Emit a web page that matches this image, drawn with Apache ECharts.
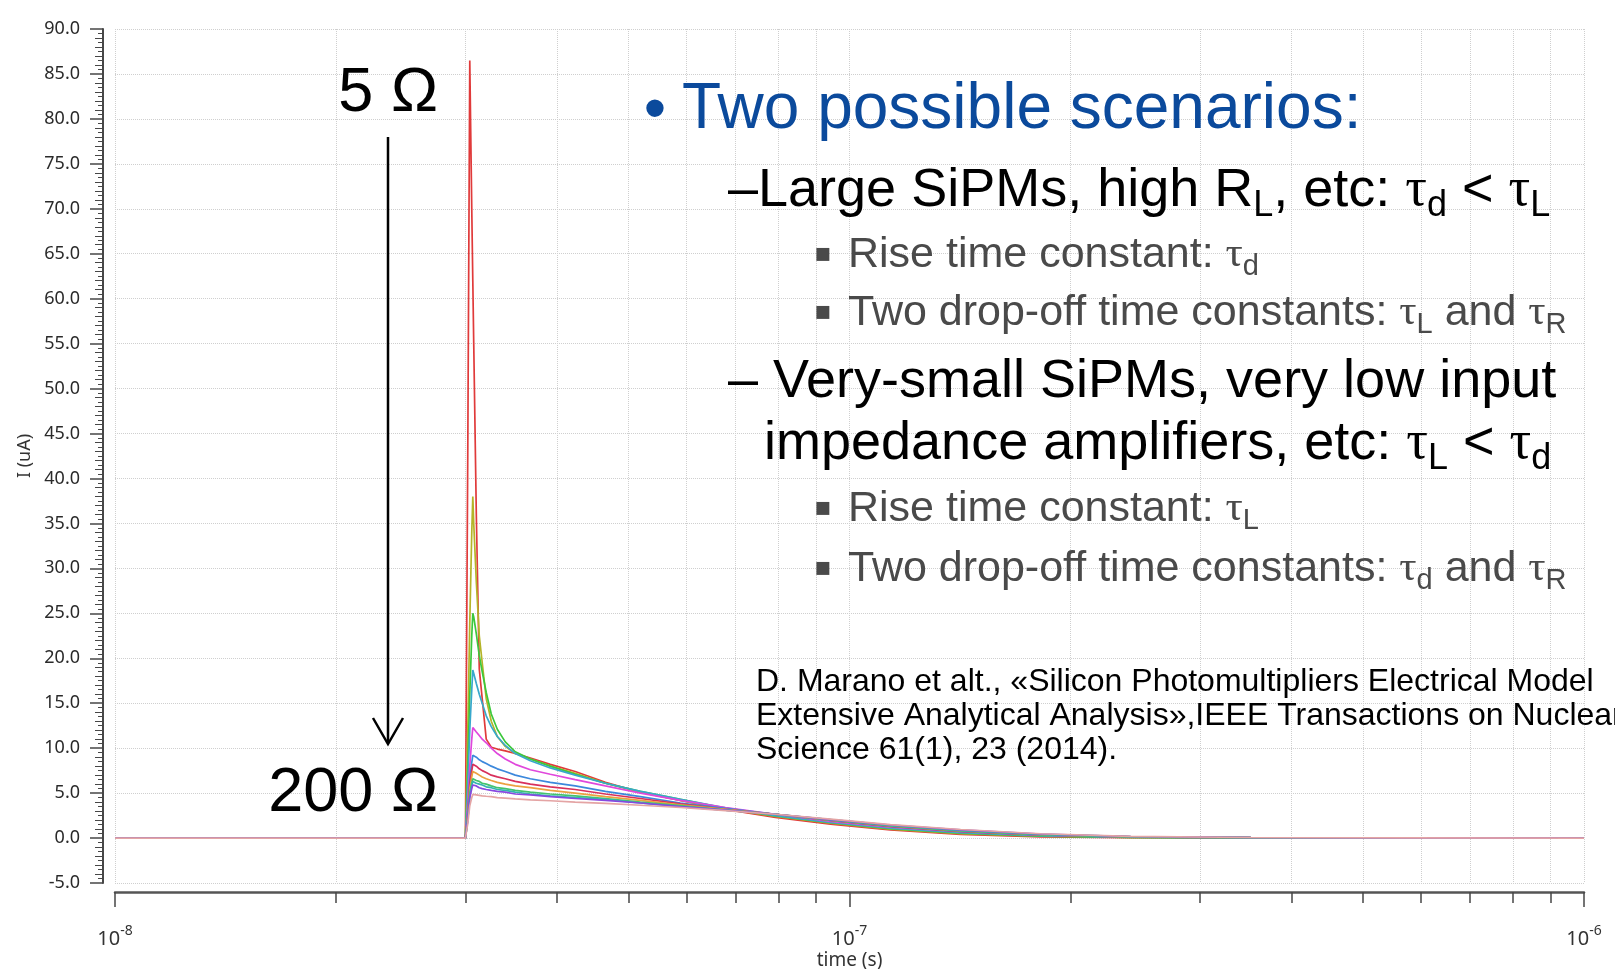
<!DOCTYPE html>
<html>
<head>
<meta charset="utf-8">
<script src="https://cdn.jsdelivr.net/npm/echarts@6/dist/echarts.min.js"></script>
<style>
html,body{margin:0;padding:0;background:#ffffff;}
#chart{width:1615px;height:969px;}
</style>
</head>
<body>
<div id="chart"></div>
<script>
// ---- data (time in seconds, current in uA) ----
const timeS = [1.0e-8, 3.0e-8, 3.022e-8, 3.041e-8, 3.060e-8, 3.070e-8, 3.079e-8, 3.104e-8, 3.133e-8, 3.162e-8,
  3.202e-8, 3.253e-8, 3.315e-8, 3.399e-8, 3.507e-8, 3.677e-8, 3.914e-8, 4.232e-8, 4.652e-8, 5.192e-8,
  5.886e-8, 6.778e-8, 7.929e-8, 9.422e-8, 1.137e-7, 1.417e-7, 1.821e-7, 2.415e-7, 3.518e-7, 5.633e-7, 1.0e-6];

const curveRed     = [0,0,43,86.5,70,62,55,36,18.8,15.5,11,10.1,9.9,9.7,9.4,8.9,8.2,7.4,6.2,5.1,4.2,3.2,2.3,1.55,0.9,0.4,0.14,0.05,0.01,0,0];
const curveOlive   = [0,0,12,24,34,38,35,28.5,22.5,19.5,15.5,13,11.3,10.2,9.4,8.8,8.0,7.2,6.1,5.1,4.2,3.25,2.4,1.65,1.0,0.5,0.2,0.06,0.01,0,0];
const curveGreen   = [0,0,8,16,22.5,25,24.6,22.7,20.3,18.5,16.2,13.8,12.1,10.7,9.6,8.8,8.0,7.1,6.1,5.2,4.3,3.3,2.45,1.7,1.05,0.55,0.22,0.07,0.02,0,0];
const curveCyan    = [0,0,6,12,16.5,18.7,18.3,17.2,16.0,15.0,13.6,12.4,11.3,10.3,9.4,8.6,7.8,7.0,6.1,5.2,4.3,3.35,2.5,1.75,1.1,0.6,0.27,0.09,0.02,0,0];
const curveMagenta = [0,0,4,8,11,12.3,12.2,11.8,11.4,11.0,10.6,10.0,9.4,8.8,8.2,7.6,7.1,6.5,5.8,5.0,4.2,3.4,2.65,1.85,1.2,0.7,0.32,0.12,0.04,0.01,0];
const curveBlue    = [0,0,3,6.5,8.4,9.2,9.2,9.0,8.7,8.5,8.3,8.0,7.7,7.4,7.0,6.6,6.2,5.8,5.2,4.6,3.9,3.3,2.65,1.95,1.3,0.75,0.35,0.13,0.04,0.01,0];
const curveCrimson = [0,0,2.7,6,7.5,8.2,8.2,8.0,7.7,7.5,7.3,7.0,6.8,6.6,6.3,6.0,5.7,5.4,4.9,4.4,3.8,3.2,2.65,1.95,1.3,0.75,0.35,0.13,0.04,0.01,0];
const curveOrange  = [0,0,2.5,5.5,6.8,7.4,7.4,7.2,7.0,6.8,6.6,6.4,6.2,6.0,5.8,5.6,5.3,5.0,4.6,4.2,3.7,3.2,2.65,2.0,1.35,0.8,0.37,0.14,0.04,0.01,0];
const curveGreen2  = [0,0,2.2,5.0,6.1,6.6,6.6,6.4,6.3,6.1,6.0,5.8,5.6,5.5,5.3,5.1,4.9,4.7,4.4,4.0,3.6,3.1,2.65,2.0,1.35,0.8,0.38,0.14,0.05,0.01,0];
const curveTeal    = [0,0,2.1,4.7,5.8,6.3,6.3,6.1,6.0,5.9,5.7,5.6,5.4,5.3,5.1,4.9,4.7,4.5,4.3,3.9,3.5,3.1,2.65,2.05,1.4,0.85,0.42,0.15,0.05,0.01,0];
const curvePurple  = [0,0,2,4.5,5.5,5.9,5.9,5.8,5.6,5.5,5.4,5.3,5.2,5.1,4.9,4.8,4.6,4.4,4.2,3.9,3.5,3.1,2.65,2.05,1.45,0.9,0.45,0.17,0.06,0.01,0];
const curveSalmon  = [0,0,1.6,3.6,4.5,4.85,4.85,4.8,4.75,4.7,4.65,4.6,4.5,4.45,4.35,4.25,4.15,4.0,3.85,3.65,3.4,3.05,2.65,2.1,1.5,0.95,0.48,0.18,0.06,0.01,0];

const curveNames  = ['5 Ω','curve 2','curve 3','curve 4','curve 5','curve 6','curve 7','curve 8','curve 9','curve 10','curve 11','200 Ω'];
const curveValues = [curveRed, curveOlive, curveGreen, curveCyan, curveMagenta, curveBlue, curveCrimson, curveOrange, curveGreen2, curveTeal, curvePurple, curveSalmon];
const curveColors = ['#e03a3a','#b4b428','#3cc83c','#38a8cc','#e048dc','#3c88dc','#d8305c','#eca040','#44c46c','#34b4b0','#8848e0','#e4a4a4'];

const xDecadeTicks = [1e-8, 1e-7, 1e-6];
const xMinorTicks = [2e-8,3e-8,4e-8,5e-8,6e-8,7e-8,8e-8,9e-8,2e-7,3e-7,4e-7,5e-7,6e-7,7e-7,8e-7,9e-7];

// ---- chart ----
const chart = echarts.init(document.getElementById('chart'), null, {renderer: 'canvas'});
const gridColor = '#cfcfcf';
const axisColor = '#474747';
const labelFont = 'Noto Sans';

const series = curveValues.map((vals, k) => ({
  name: curveNames[k],
  type: 'line',
  showSymbol: false,
  symbol: 'none',
  silent: true,
  data: timeS.map((t, i) => [Math.log10(t), vals[i]]),
  lineStyle: {color: curveColors[k], width: 1.7},
  itemStyle: {color: curveColors[k]},
  z: 3
}));

const tauRich = (size, color, subSize, shift) => ({
  m: {fontSize: size, fontFamily: 'Liberation Sans', fill: color, lineHeight: size + 8},
  t: {fontSize: size, fontFamily: 'Liberation Serif', fill: color, lineHeight: size + 8},
  s: {fontSize: subSize, fontFamily: 'Liberation Sans', fill: color, lineHeight: size + 8, padding: [shift * 2, 0, 0, 0]}
});

const blue = '#0b4a9c';
const gray = '#4a4a4a';
const richL2 = tauRich(54, '#000000', 36, 15);
const richL3 = tauRich(43, gray, 29, 12);

function richText(x, y, text, rich) {
  return {type: 'text', x: x, y: y, z: 100,
    style: {text: text, rich: rich, align: 'left', verticalAlign: 'middle'}};
}
function plainText(x, y, text, size, color, align, family) {
  return {type: 'text', x: x, y: y, z: 100,
    style: {text: text, fontSize: size, fontFamily: family || 'Liberation Sans', fill: color,
      align: align || 'left', verticalAlign: 'middle'}};
}

const graphics = [
  plainText(655, 112, '•', 64, blue, 'center'),
  plainText(682, 110, 'Two possible scenarios:', 64, blue),
  richText(728, 191, '{m|–Large SiPMs, high R}{s|L}{m|, etc: }{t|τ}{s|d}{m| < }{t|τ}{s|L}', richL2),
  plainText(823, 254, '▪', 26, gray, 'center', 'DejaVu Sans'),
  richText(848, 255, '{m|Rise time constant: }{t|τ}{s|d}', richL3),
  plainText(823, 312, '▪', 26, gray, 'center', 'DejaVu Sans'),
  richText(848, 313, '{m|Two drop-off time constants: }{t|τ}{s|L}{m| and }{t|τ}{s|R}', richL3),
  richText(728, 382, '{m|– Very-small SiPMs, very low input}', richL2),
  richText(764, 444, '{m|impedance amplifiers, etc: }{t|τ}{s|L}{m| < }{t|τ}{s|d}', richL2),
  plainText(823, 508, '▪', 26, gray, 'center', 'DejaVu Sans'),
  richText(848, 509, '{m|Rise time constant: }{t|τ}{s|L}', richL3),
  plainText(823, 568, '▪', 26, gray, 'center', 'DejaVu Sans'),
  richText(848, 569, '{m|Two drop-off time constants: }{t|τ}{s|d}{m| and }{t|τ}{s|R}', richL3),
  {type: 'text', x: 756, y: 665, z: 100,
    style: {text: 'D. Marano et alt., «Silicon Photomultipliers Electrical Model\nExtensive Analytical Analysis»,IEEE Transactions on Nuclear\nScience 61(1), 23 (2014).',
      fontSize: 32, lineHeight: 34, fontFamily: 'Liberation Sans', fill: '#000', align: 'left', verticalAlign: 'top'}},
  plainText(438, 94, '5 Ω', 63, '#000', 'right'),
  plainText(438, 794, '200 Ω', 63, '#000', 'right'),
  {type: 'line', z: 100, shape: {x1: 388, y1: 137, x2: 388, y2: 743}, style: {stroke: '#000', lineWidth: 2.5}},
  {type: 'polyline', z: 100, shape: {points: [[373, 718], [388, 744], [403, 718]]}, style: {stroke: '#000', lineWidth: 2.5, fill: null}}
];

const yBase = {
  type: 'value', min: -5, max: 90, interval: 5, offset: 12, position: 'left'
};

const option = {
  animation: false,
  backgroundColor: '#ffffff',
  grid: {left: 115, right: 31, top: 29, bottom: 86, containLabel: false, outerBoundsMode: 'none'},
  xAxis: [
    {
      type: 'value', min: -8, max: -6, position: 'bottom', offset: 9,
      axisLine: {show: true, onZero: false, lineStyle: {color: '#555555', width: 2.5}},
      axisTick: {show: true, customValues: xDecadeTicks.map(Math.log10), length: 15, lineStyle: {color: axisColor, width: 1.5}},
      axisLabel: {
        customValues: xDecadeTicks.map(Math.log10), margin: 36,
        formatter: v => '{b|10}{p|' + Math.round(v) + '}',
        rich: {
          b: {fontSize: 20, fontFamily: labelFont, color: '#333', lineHeight: 22},
          p: {fontSize: 14, fontFamily: labelFont, color: '#333', lineHeight: 22, padding: [0, 0, 16, 0]}
        }
      },
      splitLine: {show: true, lineStyle: {type: 'dotted', color: gridColor, width: 1}},
      name: 'time (s)', nameLocation: 'middle', nameGap: 59, nameMoveOverlap: false,
      nameTextStyle: {fontSize: 19, fontFamily: labelFont, color: '#333', verticalAlign: 'top'}
    },
    {
      type: 'value', min: -8, max: -6, position: 'bottom', offset: 9,
      axisLine: {show: false, onZero: false},
      axisTick: {show: true, customValues: xMinorTicks.map(Math.log10), length: 11, lineStyle: {color: axisColor, width: 1.5}},
      axisLabel: {show: false},
      splitLine: {show: true, lineStyle: {type: 'dotted', color: gridColor, width: 1}}
    }
  ],
  yAxis: [
    Object.assign({}, yBase, {
      axisLine: {show: true, onZero: false, lineStyle: {color: axisColor, width: 2}},
      axisTick: {show: true, length: 13, lineStyle: {color: axisColor, width: 1.5}},
      minorTick: {show: true, splitNumber: 5, length: 8, lineStyle: {color: axisColor, width: 1}},
      axisLabel: {formatter: v => v.toFixed(1), margin: 23, fontSize: 18, fontFamily: labelFont, color: '#2a2a2a'},
      splitLine: {show: true, lineStyle: {type: 'dotted', color: gridColor, width: 1}},
      name: 'I (uA)', nameLocation: 'middle', nameGap: 69,
      nameTextStyle: {fontSize: 18, fontFamily: labelFont, color: '#333'}
    }),
    Object.assign({}, yBase, {
      axisLine: {show: false, onZero: false},
      axisTick: {show: false},
      minorTick: {show: true, splitNumber: 10, length: 5, lineStyle: {color: axisColor, width: 1}},
      axisLabel: {show: false},
      splitLine: {show: false}
    })
  ],
  series: series,
  graphic: graphics
};
chart.setOption(option);
</script>
</body>
</html>
